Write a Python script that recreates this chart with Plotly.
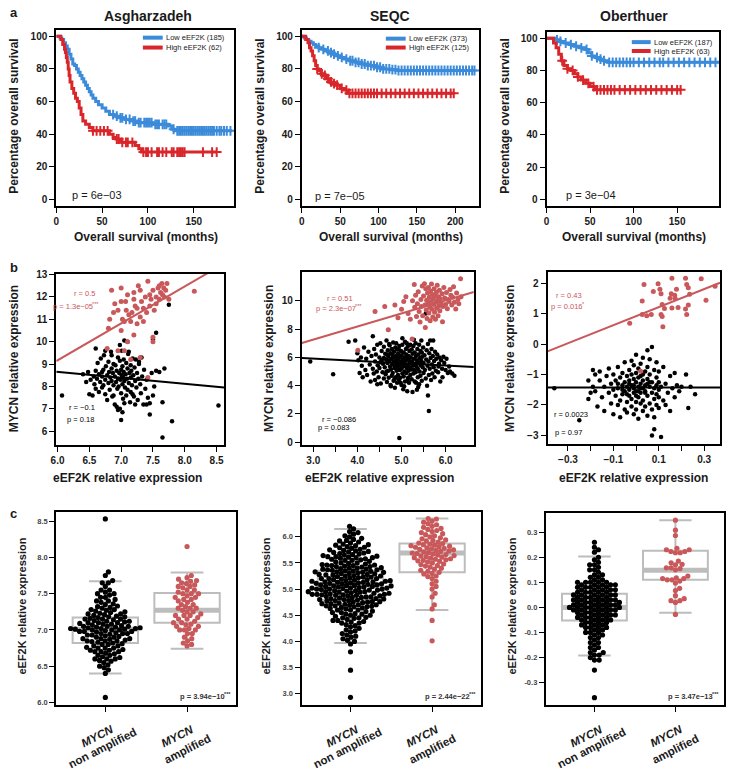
import numpy as np
import plotly.graph_objects as go

# ------------------------------------------------------------------ data
km_titles = ["Asgharzadeh", "SEQC", "Oberthuer"]
km_low_labels = ["Low eEF2K (185)", "Low eEF2K (373)", "Low eEF2K (187)"]
km_high_labels = ["High eEF2K (62)", "High eEF2K (125)", "High eEF2K (63)"]
km_pvals = ["p = 6e\u221203", "p = 7e\u221205", "p = 3e\u221204"]

asg_low_t = [0, 4, 6, 8, 10, 12, 14, 16, 18, 20, 22, 24, 26, 28, 30, 32, 34, 36, 38, 40, 43, 46, 50, 54, 58, 63, 68, 75, 82, 88, 95, 105, 115, 122, 126, 130, 192]
asg_low_s = [100, 99, 98, 96, 94, 92, 89, 86, 83, 82, 80, 78, 76, 74, 72, 70, 68, 66, 64, 62, 60, 58, 56, 54, 52, 51, 50, 49, 48, 47, 47, 46, 46, 45, 43, 42, 42]
asg_low_cens = [62, 66, 70, 72, 76, 80, 84, 86, 90, 92, 96, 98, 100, 102, 104, 108, 110, 112, 116, 118, 120, 128, 132, 134, 136, 138, 140, 142, 144, 146, 148, 150, 152, 154, 156, 158, 160, 162, 164, 166, 168, 170, 172, 175, 178, 180, 183, 186, 190]
asg_high_t = [0, 5, 7, 9, 10, 11, 12, 13, 14, 15, 17, 19, 21, 23, 25, 27, 29, 32, 36, 40, 55, 58, 62, 65, 70, 80, 86, 90, 93, 175]
asg_high_s = [100, 98, 95, 92, 90, 87, 84, 80, 76, 72, 68, 65, 62, 60, 56, 52, 48, 46, 44, 42, 42, 40, 38, 37, 35, 35, 33, 31, 29, 29]
asg_high_cens = [40, 44, 48, 52, 56, 66, 68, 72, 76, 78, 83, 95, 98, 100, 104, 110, 112, 116, 120, 126, 128, 132, 134, 136, 138, 140, 160, 170, 175]

seqc_low_t = [0, 3, 6, 9, 12, 15, 18, 22, 26, 30, 35, 40, 45, 50, 55, 62, 70, 78, 86, 95, 105, 115, 125, 225]
seqc_low_s = [100, 99, 98, 97, 96, 95, 94, 93, 92, 91, 90, 89, 88, 87, 86, 85, 84, 83, 82, 81, 80, 79.5, 79, 79]
seqc_low_cens = [22, 28, 34, 38, 42, 47, 52, 58, 63, 66, 70, 74, 78, 82, 86, 90, 94, 98, 102, 106, 110, 114, 118, 122, 126, 130, 134, 138, 142, 146, 150, 154, 158, 162, 166, 170, 174, 178, 182, 186, 190, 194, 198, 202, 206, 210, 214, 218, 222, 225]
seqc_high_t = [0, 5, 8, 10, 12, 14, 16, 18, 20, 22, 25, 28, 32, 36, 40, 45, 50, 55, 60, 198]
seqc_high_s = [100, 98, 96, 93, 91, 88, 85, 82, 80, 79, 77, 76, 74, 72, 71, 70, 68, 67, 65, 65]
seqc_high_cens = [20, 26, 30, 34, 38, 42, 46, 52, 58, 62, 66, 70, 74, 78, 82, 86, 90, 94, 98, 104, 110, 116, 122, 128, 134, 140, 146, 152, 158, 164, 170, 176, 182, 188, 194, 198]

obe_low_t = [0, 10, 14, 20, 26, 32, 38, 44, 48, 52, 56, 60, 65, 70, 198]
obe_low_s = [100, 99, 98, 97, 96, 95, 94, 93, 91, 89, 88, 87, 86, 85, 85]
obe_low_cens = [12, 16, 22, 28, 34, 40, 46, 52, 58, 62, 66, 72, 76, 80, 84, 88, 92, 96, 100, 106, 112, 118, 124, 130, 134, 140, 146, 152, 158, 164, 170, 176, 182, 188, 194]
obe_high_t = [0, 8, 11, 14, 17, 20, 24, 28, 32, 36, 40, 45, 50, 55, 154]
obe_high_s = [100, 97, 94, 90, 86, 83, 81, 80, 78, 76, 74, 72, 70, 68, 68]
obe_high_cens = [18, 24, 30, 36, 42, 48, 54, 58, 62, 66, 70, 74, 78, 84, 90, 96, 102, 108, 114, 120, 126, 132, 138, 144, 150, 154]

# scatter data (eEF2K, MYCN) : red = MYCN amplified, black = non amplified
b1_red = [(6.85,12.3),(6.82,11.0),(6.8,10.6),(6.9,11.7),(6.95,11.4),(7.0,12.4),(7.02,11.0),(7.05,10.9),(7.07,11.8),(7.1,12.1),
          (7.12,11.2),(7.15,10.9),(7.17,11.3),(7.2,11.9),(7.22,11.6),(7.25,10.8),(7.27,12.5),(7.3,11.1),(7.32,11.8),(7.35,11.5),
          (7.38,12.0),(7.4,11.3),(7.42,12.7),(7.45,11.6),(7.47,11.9),(7.5,12.3),(7.52,11.4),(7.55,12.0),(7.58,12.4),(7.6,12.5),
          (7.62,12.2),(7.64,12.6),(7.65,12.1),(7.67,12.4),(7.7,12.3),(7.72,12.6),(7.75,11.9),(7.68,12.0),(7.1,10.0),(7.0,10.5),
          (6.95,9.6),(7.05,9.6),(7.15,9.2),(7.3,9.3),(7.5,10.2),(7.5,10.0),(7.42,8.4),(6.78,9.7),(7.2,10.3),(7.35,10.9),
          (7.25,11.5),(7.08,11.4),(6.88,11.3),(8.15,12.25),(7.45,12.1),(7.55,11.7),(7.3,12.3),(7.6,11.9),(7.2,12.2),(7.0,11.8)]
b1_black = [(6.07,7.60),(8.53,7.15),(7.80,6.45),(7.65,5.72),(7.45,6.75),(7.00,6.50),(7.55,10.40),(7.50,10.10),(7.75,11.65),(7.68,8.80),
            (7.65,7.30),(6.60,9.70),(6.75,9.60),(6.40,8.55),(6.45,8.20),(6.48,8.65),(6.50,7.65),(6.52,8.30),(6.55,7.60),(6.57,8.45),
            (6.58,8.10),(6.60,8.70),(6.60,7.90),(6.62,8.35),(6.63,9.05),(6.65,8.55),(6.65,7.75),(6.67,8.20),(6.68,9.25),(6.70,8.45),
            (6.70,7.95),(6.72,8.75),(6.72,8.05),(6.73,9.40),(6.75,8.30),(6.75,7.65),(6.76,8.90),(6.78,8.50),(6.78,7.40),(6.80,8.15),
            (6.80,9.10),(6.81,8.65),(6.82,7.85),(6.83,8.40),(6.84,9.55),(6.85,8.25),(6.85,8.80),(6.86,7.55),(6.87,8.60),(6.88,9.00),
            (6.88,8.05),(6.90,8.45),(6.90,7.20),(6.91,8.95),(6.92,8.20),(6.93,8.70),(6.94,7.90),(6.95,9.30),(6.95,8.35),(6.96,8.00),
            (6.97,8.60),(6.98,7.00),(6.98,9.15),(6.99,8.30),(7.00,8.75),(7.00,7.70),(7.01,8.50),(7.01,9.60),(7.02,8.10),(7.02,8.90),
            (7.02,6.85),(7.03,8.40),(7.03,7.45),(7.04,9.20),(7.04,8.65),(7.05,8.25),(7.05,10.05),(7.06,7.95),(7.07,8.55),(7.08,9.05),
            (7.08,7.60),(7.09,8.35),(7.10,8.80),(7.10,7.85),(7.11,9.45),(7.12,8.15),(7.13,8.60),(7.14,7.30),(7.15,8.95),(7.15,8.40),
            (7.15,7.75),(7.16,8.70),(7.17,8.05),(7.18,9.25),(7.19,8.50),(7.20,7.55),(7.21,8.85),(7.22,8.25),(7.23,9.20),(7.24,7.95),
            (7.25,8.60),(7.26,7.40),(7.27,8.35),(7.28,9.00),(7.30,8.10),(7.31,7.70),(7.33,8.45),(7.35,7.20),(7.36,8.75),(7.38,7.90),
            (7.40,8.30),(7.42,7.50),(7.45,7.25),(7.48,8.60),(7.50,7.60),(7.52,8.00),(7.55,8.70),(7.60,8.65),(7.40,7.20),(7.28,9.10),
            (7.12,9.55),(6.98,9.85),(6.88,7.60),(7.05,7.25),(6.93,7.10),(7.18,7.65),(6.70,8.65),(6.85,9.40),(7.32,9.30),(7.22,7.20),
            (6.95,6.95),(7.10,10.00)]

b2_red = [(4.01,6.50),(4.40,9.25),(4.62,9.60),(4.70,7.95),(4.85,9.70),(4.92,8.80),(5.00,9.40),(5.05,9.95),(5.10,10.30),(5.15,9.10),
          (5.20,8.70),(5.24,7.30),(5.25,10.00),(5.29,11.15),(5.30,9.55),(5.32,10.40),(5.34,8.90),(5.36,9.80),(5.38,10.65),(5.40,9.25),
          (5.42,8.50),(5.44,10.10),(5.45,9.60),(5.47,11.05),(5.48,8.95),(5.50,10.35),(5.52,11.21),(5.53,9.70),(5.54,8.11),(5.55,10.85),
          (5.56,9.35),(5.57,10.05),(5.58,8.75),(5.59,10.55),(5.60,9.85),(5.61,10.95),(5.62,9.15),(5.63,10.25),(5.64,9.55),(5.65,8.60),
          (5.66,10.70),(5.67,9.95),(5.68,11.20),(5.69,9.40),(5.70,10.45),(5.71,8.85),(5.72,10.15),(5.73,9.75),(5.74,10.85),(5.75,9.20),
          (5.76,10.35),(5.77,8.70),(5.78,9.90),(5.79,10.60),(5.80,9.50),(5.81,11.10),(5.82,10.05),(5.83,8.95),(5.84,10.30),(5.85,9.65),
          (5.86,10.75),(5.87,9.30),(5.88,10.15),(5.90,9.85),(5.92,10.50),(5.93,8.53),(5.94,9.60),(5.96,10.95),(5.98,10.20),(6.00,9.75),
          (6.02,10.60),(6.04,9.45),(6.06,10.10),(6.08,9.95),(6.10,10.80),(6.12,10.40),(6.14,9.70),(6.16,10.25),(6.18,11.00),(6.20,9.90),
          (6.23,9.42),(6.25,10.55),(6.28,10.10),(6.30,9.80),(6.34,11.56),(6.35,10.30)]
b2_black = [(2.93,5.70),(3.45,4.80),
            (3.80,7.10),(3.95,7.20),(4.00,6.30),(4.02,5.80),(4.05,4.90),(4.08,6.00),(4.10,5.40),(4.12,4.60),(4.15,6.70),(4.18,5.10),
            (4.20,5.90),(4.22,4.75),(4.25,6.40),(4.28,5.50),(4.30,4.30),
            (4.32,6.10),(4.35,7.50),(4.35,5.20),(4.37,4.85),(4.38,6.60),(4.40,5.70),(4.40,4.40),(4.42,6.20),(4.44,5.00),(4.45,6.90),
            (4.46,5.45),(4.48,4.60),(4.50,6.00),(4.50,5.25),(4.52,7.00),(4.53,4.15),(4.55,5.80),(4.55,6.45),(4.57,4.95),(4.58,5.55),
            (4.60,6.75),(4.60,4.50),(4.60,5.95),(4.45,4.10),(4.52,5.65),
            (4.62,5.30),(4.63,6.25),(4.64,4.80),(4.65,5.85),(4.66,7.20),(4.67,4.25),(4.68,5.60),(4.69,6.50),(4.70,5.05),(4.70,6.05),
            (4.71,4.55),(4.72,5.75),(4.73,6.85),(4.74,5.35),(4.75,4.05),(4.75,6.30),(4.76,5.15),(4.77,5.90),(4.78,4.70),(4.78,6.60),
            (4.79,5.50),(4.80,6.15),(4.80,4.90),(4.81,7.05),(4.82,5.70),(4.82,4.35),(4.83,6.40),(4.84,5.25),(4.85,5.95),(4.85,3.85),
            (4.86,6.70),(4.87,5.40),(4.87,4.60),(4.88,6.10),(4.89,5.05),(4.89,5.80),(4.90,4.20),(4.90,6.55),(4.90,5.60),(4.66,5.00),
            (4.72,6.95),(4.84,4.45),(4.76,3.95),(4.68,6.20),(4.88,7.00),
            (4.91,5.30),(4.92,6.25),(4.92,4.75),(4.93,5.90),(4.94,4.40),(4.95,0.30),(4.95,6.80),(4.95,5.45),(4.96,5.10),(4.97,6.05),
            (4.97,4.55),(4.98,5.70),(4.99,6.45),(5.00,5.20),(5.00,4.05),(5.00,6.15),(5.01,5.55),(5.02,4.85),(5.02,6.90),(5.03,5.85),
            (5.04,5.35),(5.04,3.75),(5.05,6.35),(5.05,4.65),(5.06,5.65),(5.07,6.00),(5.07,5.00),(5.08,7.10),(5.08,4.30),(5.09,5.45),
            (5.10,6.60),(5.10,5.80),(5.11,4.90),(5.11,6.20),(5.12,5.25),(5.13,3.60),(5.13,5.95),(5.14,6.75),(5.15,4.55),(5.15,5.50),
            (5.16,6.10),(5.16,5.05),(5.17,4.20),(5.18,5.75),(5.18,6.45),(5.19,5.30),(5.20,4.75),(5.20,6.90),(5.20,5.60),(4.98,4.20),
            (5.06,3.95),(5.14,4.40),(5.02,7.35),(4.94,6.55),(5.12,7.00),
            (5.21,6.00),(5.22,5.15),(5.23,4.45),(5.23,6.55),(5.24,5.70),(5.25,3.55),(5.25,6.25),(5.26,5.40),(5.27,4.85),(5.27,6.80),
            (5.28,5.90),(5.29,5.10),(5.30,6.35),(5.30,4.30),(5.31,5.55),(5.32,7.00),(5.32,4.95),(5.33,6.10),(5.34,5.35),(5.35,3.70),
            (5.35,5.80),(5.36,6.60),(5.37,4.60),(5.37,5.20),(5.38,6.20),(5.39,5.65),(5.40,4.10),(5.40,6.90),(5.41,5.00),(5.42,5.95),
            (5.43,6.45),(5.43,4.70),(5.44,5.45),(5.45,7.20),(5.45,5.75),(5.46,4.35),(5.47,6.05),(5.48,5.30),(5.49,6.70),(5.50,4.90),
            (5.50,5.60),(5.28,7.25),(5.38,3.90),(5.46,6.35),(5.33,4.20),
            (5.52,6.15),(5.53,5.10),(5.55,4.50),(5.55,9.10),(5.56,5.85),(5.57,6.50),(5.58,4.00),(5.59,5.40),(5.60,3.30),(5.60,6.95),
            (5.61,5.70),(5.62,2.20),(5.62,4.75),(5.63,6.30),(5.64,5.20),(5.65,7.20),(5.66,5.95),(5.67,4.40),(5.68,6.60),(5.69,5.50),
            (5.70,4.85),(5.71,6.10),(5.72,7.20),(5.73,5.30),(5.74,5.75),(5.75,4.60),(5.76,6.40),(5.78,5.05),(5.80,9.50),(5.79,5.90),
            (5.81,6.20),(5.83,4.95),(5.85,5.55),(5.86,6.00),(5.88,4.30),(5.90,5.80),(5.92,5.20),(5.95,6.05),(5.97,5.60),(6.00,5.10),
            (6.02,5.90),(6.05,4.90),(6.08,5.35),(6.10,5.00),(6.15,4.85),(6.20,4.70),(5.84,5.35),(5.93,4.60)]

b3_red = [(0.035,1.95),(-0.028,0.68),(0.027,1.41),(0.027,0.97),(0.067,0.97),(0.097,1.98),(0.105,1.80),(0.11,1.65),(0.115,1.30),
          (0.11,0.97),(0.115,0.90),(0.118,0.57),(0.125,1.17),(0.158,2.16),(0.17,1.60),(0.178,1.80),(0.185,1.20),(0.172,1.50),
          (0.158,1.18),(0.218,2.16),(0.223,1.95),(0.23,1.85),(0.218,1.15),(0.223,0.97),(0.23,1.28),(0.236,1.63),(0.287,2.14),
          (0.308,1.44),(0.076,1.72),(0.047,0.93),(0.15,1.50),(0.155,1.65),(0.02,-0.89),(0.348,1.90)]
b3_black = [(-0.36,-1.45),(-0.25,-2.50),(-0.21,-1.80),(-0.20,-1.60),(-0.21,-1.20),(0.26,-1.65),(0.24,-1.40),(0.23,-2.10),
            (0.22,-1.00),(0.07,-3.00),(0.11,-3.05),(0.08,-2.80),(0.05,-0.20),(0.07,-0.10),
            (-0.19,-0.85),(-0.18,-1.55),(-0.17,-2.05),(-0.16,-1.20),(-0.16,-0.90),(-0.15,-1.75),(-0.14,-1.40),(-0.14,-2.20),
            (-0.13,-1.05),(-0.12,-1.60),(-0.12,-0.80),(-0.11,-1.95),(-0.11,-1.30),(-0.10,-1.50),(-0.10,-2.30),(-0.10,-1.00),
            (-0.09,-1.70),(-0.09,-1.20),(-0.08,-2.00),(-0.08,-0.75),(-0.08,-1.45),(-0.07,-1.85),(-0.07,-1.10),(-0.07,-2.40),
            (-0.06,-1.35),(-0.06,-0.95),(-0.06,-1.65),(-0.05,-2.15),(-0.05,-1.25),(-0.05,-0.60),(-0.05,-1.55),(-0.04,-1.90),
            (-0.04,-1.05),(-0.04,-1.40),(-0.04,-2.25),(-0.03,-0.85),(-0.03,-1.70),(-0.03,-1.20),(-0.03,-1.50),(-0.02,-2.05),
            (-0.02,-0.55),(-0.02,-1.35),(-0.02,-1.80),(-0.02,-1.00),(-0.01,-1.60),(-0.01,-2.30),(-0.01,-1.15),(-0.01,-0.70),
            (-0.01,-1.45),(0.00,-1.90),(0.00,-1.25),(0.00,-0.35),(0.00,-1.55),(0.00,-2.15),(0.00,-0.95),(0.01,-1.40),
            (0.01,-1.75),(0.01,-1.10),(0.01,-2.45),(0.01,-0.80),(0.02,-1.30),(0.02,-1.95),(0.02,-1.60),(0.02,-0.65),
            (0.02,-1.05),(0.03,-2.20),(0.03,-1.45),(0.03,-1.20),(0.03,-0.45),(0.03,-1.85),(0.04,-1.35),(0.04,-2.05),
            (0.04,-0.90),(0.04,-1.55),(0.05,-1.15),(0.05,-1.70),(0.05,-2.35),(0.05,-0.75),(0.06,-1.40),(0.06,-1.95),
            (0.06,-1.00),(0.06,-0.50),(0.07,-1.60),(0.07,-2.15),(0.07,-1.25),(0.08,-0.85),(0.08,-1.80),(0.08,-1.45),
            (0.08,-2.40),(0.09,-1.10),(0.09,-1.65),(0.09,-0.60),(0.09,-2.00),(0.09,-1.35),(0.10,-0.90),(0.10,-1.75),
            (0.10,-1.25),(0.10,-2.10),(0.10,-1.50),(0.05,-1.30),(-0.03,-1.30),(0.02,-1.45),(-0.06,-1.50),(0.04,-1.60),
            (-0.01,-1.35),(0.00,-1.70),(0.03,-1.00),(-0.04,-1.65),(0.01,-1.55),(-0.08,-1.30),(0.06,-1.25),
            (0.11,-1.40),(0.12,-0.75),(0.12,-1.85),(0.13,-1.30),(0.14,-1.60),(0.15,-1.05),(0.15,-2.20),(0.16,-1.45),
            (0.17,-1.75),(0.18,-1.35),(0.19,-1.55),(0.20,-1.40),(0.17,-0.95),(0.13,-2.00),(-0.19,-1.40),(-0.18,-1.00)]

# regression lines (slope, intercept)
b_red_fit = [(1.65, -0.73), (0.928, 4.47), (2.96, 0.915)]
b_black_fit = [(-0.265, 10.24), (-0.167, 6.42), (0.0, -1.43)]
b_red_r = ["r = 0.5", "r = 0.51", "r = 0.43"]
b_red_p = ["p = 1.3e\u221205", "p = 2.3e\u221207", "p = 0.016"]
b_red_stars = ["***", "***", "*"]
b_black_r = ["r = \u22120.1", "r = \u22120.086", "r = 0.0023"]
b_black_p = ["p = 0.18", "p = 0.083", "p = 0.97"]

# box statistics (q1, median, q3, lower whisker, upper whisker)
c_box_nonamp = [(6.82, 7.01, 7.17, 6.40, 7.67), (4.79, 5.08, 5.35, 3.97, 6.15), (-0.052, 0.0, 0.054, -0.192, 0.203)]
c_box_amp = [(7.10, 7.27, 7.51, 6.74, 7.79), (5.32, 5.69, 5.87, 4.60, 6.35), (0.110, 0.148, 0.226, -0.021, 0.348)]
c_pvals = ["p = 3.94e\u221210", "p = 2.44e\u221222", "p = 3.47e\u221213"]
c_stars = ["***", "***", "***"]
c_cat_line1 = ["MYCN", "MYCN"]
c_cat_line2 = ["non amplified", "amplified"]

# ------------------------------------------------------------------ style / layout
W, H = 729, 770
FONT = "Liberation Sans"
BLUE = "#3B8BDA"
RED = "#D9262B"
SRED = "#C9585B"
GRAY = "#BDBDBD"
TXT = "#1a1a1a"

# plot areas in pixels: left, right, top, bottom
boxes = [
    (50.7, 230, 25, 203), (298.3, 477, 25, 203), (545, 719.3, 27, 203),
    (50.7, 220, 271.7, 444.3), (298.3, 471.7, 270, 444.3), (546, 720, 269.3, 443.3),
    (50.7, 232, 512, 707), (298, 479, 512, 707), (544.3, 724, 513, 707),
]
xranges = [[0, 194], [0, 231], [0, 198.5],
           [5.98, 8.62], [2.74, 6.64], [-0.39, 0.37],
           [0.4, 2.6], [0.4, 2.6], [0.4, 2.6]]
yranges = [[-4, 104], [-4, 104], [-4, 104],
           [5.4, 13.03], [-0.18, 12.03], [-3.27, 2.38],
           [5.97, 8.63], [2.79, 6.48], [-0.388, 0.378]]

fig = go.Figure()


def ax(i):
    return ("x" if i == 0 else f"x{i+1}"), ("y" if i == 0 else f"y{i+1}")


def f(size, bold=True, color=TXT, italic=False):
    d = dict(family=FONT, size=size, color=color)
    if bold:
        d["weight"] = "bold"
    if italic:
        d["style"] = "italic"
    return d


# ---- KM panels
km = [
    (asg_low_t, asg_low_s, asg_low_cens, asg_high_t, asg_high_s, asg_high_cens),
    (seqc_low_t, seqc_low_s, seqc_low_cens, seqc_high_t, seqc_high_s, seqc_high_cens),
    (obe_low_t, obe_low_s, obe_low_cens, obe_high_t, obe_high_s, obe_high_cens),
]


def step_at(t, s, c):
    t = np.asarray(t); s = np.asarray(s)
    idx = np.searchsorted(t, np.asarray(c), side="right") - 1
    return s[np.clip(idx, 0, len(s) - 1)]


for i, (lt, ls, lc, ht, hs, hc) in enumerate(km):
    xa, ya = ax(i)
    for t, s, c, col, name in [(lt, ls, lc, BLUE, km_low_labels[i]), (ht, hs, hc, RED, km_high_labels[i])]:
        fig.add_trace(go.Scatter(x=t, y=s, mode="lines", line=dict(color=col, width=3, shape="hv"),
                                 name=name, showlegend=False, xaxis=xa, yaxis=ya))
        fig.add_trace(go.Scatter(x=c, y=step_at(t, s, c), mode="markers",
                                 marker=dict(symbol="cross-thin", size=7, line=dict(color=col, width=2)),
                                 showlegend=False, xaxis=xa, yaxis=ya))

# ---- scatter panels
b_sets = [(b1_red, b1_black), (b2_red, b2_black), (b3_red, b3_black)]
for k, (red, black) in enumerate(b_sets):
    i = 3 + k
    xa, ya = ax(i)
    fig.add_trace(go.Scatter(x=[p[0] for p in black], y=[p[1] for p in black], mode="markers",
                             marker=dict(color="black", size=4.5), showlegend=False, xaxis=xa, yaxis=ya))
    fig.add_trace(go.Scatter(x=[p[0] for p in red], y=[p[1] for p in red], mode="markers",
                             marker=dict(color=SRED, size=5), showlegend=False, xaxis=xa, yaxis=ya))
    xr = np.array(xranges[i])
    for (sl, ic), col in [(b_black_fit[k], "black"), (b_red_fit[k], SRED)]:
        fig.add_trace(go.Scatter(x=xr, y=ic + sl * xr, mode="lines", line=dict(color=col, width=2),
                                 showlegend=False, xaxis=xa, yaxis=ya, cliponaxis=True))


# ---- beeswarm panels
def swarm(vals, center, ppy, ppx, d):
    vals = np.asarray(vals, dtype=float)
    order = np.argsort(vals)
    xs = np.zeros(len(vals))
    placed = []
    for i in order:
        y = vals[i] * ppy
        near = [(py, px) for py, px in placed if abs(py - y) < d]
        cands = [0.0]
        for py, px in near:
            dx = np.sqrt(max(d * d - (py - y) ** 2, 0))
            cands += [px + dx, px - dx]
        cands.sort(key=abs)
        for c in cands:
            if all((c - px) ** 2 + (y - py) ** 2 >= d * d - 1e-6 for py, px in near):
                xs[i] = c
                break
        placed.append((y, xs[i]))
    return center + xs / ppx


BOXW = 0.8
for k, (red, black) in enumerate(b_sets):
    i = 6 + k
    xa, ya = ax(i)
    l, r, t, b = boxes[i]
    ppx = (r - l) / (xranges[i][1] - xranges[i][0])
    ppy = (b - t) / (yranges[i][1] - yranges[i][0])
    for cat, st in [(1, c_box_nonamp[k]), (2, c_box_amp[k])]:
        q1, med, q3, lo, hi = st
        fig.add_trace(go.Box(x=[cat], q1=[q1], median=[med], q3=[q3], lowerfence=[lo], upperfence=[hi],
                             width=BOXW, whiskerwidth=0.5, line=dict(color=GRAY, width=2),
                             fillcolor="rgba(0,0,0,0)", boxpoints=False, showlegend=False, xaxis=xa, yaxis=ya))
        fig.add_trace(go.Scatter(x=[cat - BOXW / 2, cat + BOXW / 2], y=[med, med], mode="lines",
                                 line=dict(color=GRAY, width=5), showlegend=False, xaxis=xa, yaxis=ya))
    vb = [p[0] for p in black]
    vr = [p[0] for p in red]
    fig.add_trace(go.Scatter(x=swarm(vb, 1, ppy, ppx, 4.8), y=vb, mode="markers",
                             marker=dict(color="black", size=5.2), showlegend=False, xaxis=xa, yaxis=ya))
    fig.add_trace(go.Scatter(x=swarm(vr, 2, ppy, ppx, 4.8), y=vr, mode="markers",
                             marker=dict(color=SRED, size=5.2), showlegend=False, xaxis=xa, yaxis=ya))

# ---- axes
tick_specs = [
    dict(x=dict(tickvals=[0, 50, 100, 150]), y=dict(tickvals=[0, 20, 40, 60, 80, 100])),
    dict(x=dict(tickvals=[0, 50, 100, 150, 200]), y=dict(tickvals=[0, 20, 40, 60, 80, 100])),
    dict(x=dict(tickvals=[0, 50, 100, 150]), y=dict(tickvals=[0, 20, 40, 60, 80, 100])),
    dict(x=dict(tickvals=[6.0, 6.5, 7.0, 7.5, 8.0, 8.5], ticktext=["6.0", "6.5", "7.0", "7.5", "8.0", "8.5"]),
         y=dict(tickvals=list(range(6, 14)))),
    dict(x=dict(tickvals=[3, 4, 5, 6], ticktext=["3.0", "4.0", "5.0", "6.0"],
                minor=dict(tickmode="array", tickvals=[3.5, 4.5, 5.5], ticks="outside", ticklen=5, tickwidth=1.3, tickcolor="black")),
         y=dict(tickvals=[0, 2, 4, 6, 8, 10])),
    dict(x=dict(tickvals=[-0.3, -0.1, 0.1, 0.3], ticktext=["\u22120.3", "\u22120.1", "0.1", "0.3"],
                minor=dict(tickmode="array", tickvals=[-0.2, 0.0, 0.2], ticks="outside", ticklen=5, tickwidth=1.3, tickcolor="black")),
         y=dict(tickvals=[-3, -2, -1, 0, 1, 2], ticktext=["\u22123", "\u22122", "\u22121", "0", "1", "2"])),
    dict(x=dict(tickvals=[1, 2], showticklabels=False),
         y=dict(tickvals=[6.0, 6.5, 7.0, 7.5, 8.0, 8.5], ticktext=["6.0", "6.5", "7.0", "7.5", "8.0", "8.5"])),
    dict(x=dict(tickvals=[1, 2], showticklabels=False),
         y=dict(tickvals=[3.0, 3.5, 4.0, 4.5, 5.0, 5.5, 6.0], ticktext=["3.0", "3.5", "4.0", "4.5", "5.0", "5.5", "6.0"])),
    dict(x=dict(tickvals=[1, 2], showticklabels=False),
         y=dict(tickvals=[-0.3, -0.2, -0.1, 0.0, 0.1, 0.2, 0.3], ticktext=["-0.3", "-0.2", "-0.1", "0.0", "0.1", "0.2", "0.3"])),
]

lay = {}
for i in range(9):
    l, r, t, b = boxes[i]
    key = "" if i == 0 else str(i + 1)
    tfs = 10 if i < 6 else 7.5
    tcol = TXT if i < 6 else "#444444"
    common = dict(showline=True, mirror=True, linecolor="black", linewidth=2, ticks="outside", ticklen=5,
                  tickwidth=1.3, tickcolor="black", showgrid=False, zeroline=False, tickfont=f(tfs, True, tcol),
                  tickmode="array", fixedrange=True)
    xd = dict(common, domain=[l / W, r / W], range=xranges[i], anchor="y" + key)
    xd.update(tick_specs[i]["x"])
    yd = dict(common, domain=[1 - b / H, 1 - t / H], range=yranges[i], anchor="x" + key)
    yd.update(tick_specs[i]["y"])
    lay["xaxis" + key] = xd
    lay["yaxis" + key] = yd

annotations = []
shapes = []


def A(text, x, y, size, bold=True, color=TXT, angle=0, xanchor="center", yanchor="middle", italic=False, xshift=0):
    annotations.append(dict(text=text, x=x / W, y=1 - y / H, xref="paper", yref="paper", showarrow=False,
                            textangle=angle, font=f(size, bold, color, italic), xanchor=xanchor, yanchor=yanchor,
                            borderpad=0, xshift=xshift))


# panel letters
A("a", 3, 8, 13, xanchor="left")
A("b", 3, 265, 13, xanchor="left")
A("c", 3, 514, 13, xanchor="left")

# KM titles, axis titles, p-values, legends
km_title_x = [143, 387, 633]
km_ytitle_x = [8, 256, 503]
km_p_pos = [(92, 192), (337, 193), (590, 192)]
leg_x = [(138, 158), (383, 403), (631, 650)]
leg_y = [(33, 43), (34, 43), (37.5, 46.5)]
for i in range(3):
    A(km_titles[i], km_title_x[i], 11, 14)
    A("Percentage overall survival", km_ytitle_x[i], 112, 12, angle=-90)
    A("Overall survival (months)", (boxes[i][0] + boxes[i][1]) / 2 + 1, 234, 12)
    A(km_pvals[i], km_p_pos[i][0], km_p_pos[i][1], 11, bold=False)
    for lab, col, yy in [(km_low_labels[i], BLUE, leg_y[i][0]), (km_high_labels[i], RED, leg_y[i][1])]:
        shapes.append(dict(type="line", xref="paper", yref="paper", x0=leg_x[i][0] / W, x1=leg_x[i][1] / W,
                           y0=1 - yy / H, y1=1 - yy / H, line=dict(color=col, width=4)))
        A(lab, leg_x[i][1] + 2, yy, 7.5, bold=False, xanchor="left")

# scatter titles and stats text (pixel positions)
b_ytitle_x = [8, 265, 508]
b_xtitle_x = [123, 377, 633]
b_red_r_pos = [(79, 292), (337, 296.7), (568, 293.3)]
b_red_p_split = [(89, 304.3), (354, 306.7), (583, 305)]
b_black_r_pos = [(77, 406.7), (336, 419.3), (570, 413.3)]
b_black_p_pos = [(75, 419.3), (331, 426.7), (567, 431.7)]
for k in range(3):
    A("MYCN relative expression", b_ytitle_x[k], 357, 12, angle=-90)
    A("eEF2K relative expression", b_xtitle_x[k], 478, 12)
    A(b_red_r[k], *b_red_r_pos[k], 7.5, bold=False, color=SRED)
    A(b_red_p[k], *b_red_p_split[k], 7.5, bold=False, color=SRED, xanchor="right")
    A(b_red_stars[k], b_red_p_split[k][0], b_red_p_split[k][1] - 2.5, 5.5, bold=False, color=SRED,
      xanchor="left", xshift=-3.5)
    A(b_black_r[k], *b_black_r_pos[k], 7.5, bold=False, color="black")
    A(b_black_p[k], *b_black_p_pos[k], 7.5, bold=False, color="black")

# box/beeswarm titles, category labels, p-values
c_ytitle_x = [16, 262, 510]
cat_l1_off = [(-8, 738.5), (-9.5, 738.5)]
cat_l2_off = [(-3, 750.5), (0, 751.5)]
for k in range(3):
    i = 6 + k
    l, r, t, b = boxes[i]
    ppx = (r - l) / (xranges[i][1] - xranges[i][0])
    A("eEF2K relative expression", c_ytitle_x[k], 607, 11, angle=-90)
    A(c_pvals[k], r - 10, 699, 7.5, bold=True, color="#333333", xanchor="right")
    A(c_stars[k], r - 10, 696.5, 5.5, bold=True, color="#333333", xanchor="left", xshift=-3.5)
    for j, cat in enumerate([1, 2]):
        cx = l + (cat - xranges[i][0]) * ppx
        A(c_cat_line1[j], cx + cat_l1_off[j][0], cat_l1_off[j][1], 11.5, italic=True, angle=-27)
        A(c_cat_line2[j], cx + cat_l2_off[j][0], cat_l2_off[j][1], 11.5, angle=-27)

fig.update_layout(
    width=W, height=H, margin=dict(l=0, r=0, t=0, b=0), autosize=False,
    paper_bgcolor="white", plot_bgcolor="white", showlegend=False,
    font=dict(family=FONT, color=TXT),
    annotations=annotations, shapes=shapes, **lay,
)

fig.write_html("out.html", config={"displayModeBar": False},
               post_script="document.body.style.margin='0px';document.body.style.padding='0px';")
